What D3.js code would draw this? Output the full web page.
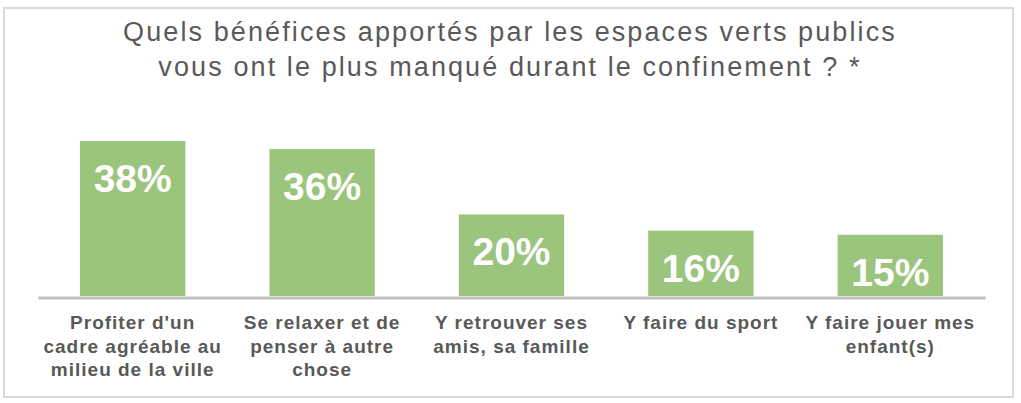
<!DOCTYPE html>
<html><head><meta charset="utf-8">
<script src="https://cdn.jsdelivr.net/npm/d3@7"></script>
<style>
html,body{margin:0;padding:0;background:#fff;}
svg{display:block;}
text{font-family:"Liberation Sans",Arial,sans-serif;}
</style></head>
<body>
<svg id="chart" width="1021" height="403"></svg>
<script>
const titleLines = ["Quels bénéfices apportés par les espaces verts publics", "vous ont le plus manqué durant le confinement ? *"];
const categories = ["Profiter d'un cadre agréable au milieu de la ville", "Se relaxer et de penser à autre chose", "Y retrouver ses amis, sa famille", "Y faire du sport", "Y faire jouer mes enfant(s)"];
const categoryLines = [
  ["Profiter d'un", "cadre agréable au", "milieu de la ville"],
  ["Se relaxer et de", "penser à autre", "chose"],
  ["Y retrouver ses", "amis, sa famille"],
  ["Y faire du sport"],
  ["Y faire jouer mes", "enfant(s)"]
];
const values = [38, 36, 20, 16, 15];

const svg = d3.select("#chart");
// frame
svg.append("rect").attr("x", 4).attr("y", 8).attr("width", 1009).attr("height", 389)
  .attr("fill", "#fff").attr("stroke", "#d9d9d9").attr("stroke-width", 2);

// title
const title = svg.append("text").attr("text-anchor", "middle").attr("fill", "#595959")
  .style("font-size", "27px").style("letter-spacing", "2.1px");
titleLines.forEach((l, i) => {
  title.append("tspan").attr("x", 510).attr("y", 41 + i * 35).text(l);
});

const x = d3.scaleBand().domain(categories).range([38, 985]).paddingInner(0.444).paddingOuter(0.222);
const y = d3.scaleLinear().domain([0, 100]).range([296, 296 - 408]);

// bars
svg.selectAll("rect.bar").data(values).enter().append("rect").attr("class", "bar")
  .attr("x", (d, i) => x(categories[i]))
  .attr("width", x.bandwidth())
  .attr("y", d => y(d))
  .attr("height", d => y(0) - y(d))
  .attr("fill", "#9bc47d");

// axis line
const axis = d3.axisBottom(x).tickSize(0).tickFormat("");
const ag = svg.append("g").attr("transform", "translate(0,297.5)").call(axis);
ag.select(".domain").attr("stroke", "#bfbfbf").attr("stroke-width", 3);

// value labels
svg.selectAll("text.val").data(values).enter().append("text").attr("class", "val")
  .attr("x", (d, i) => x(categories[i]) + x.bandwidth() / 2)
  .attr("y", d => y(d) + 51)
  .attr("text-anchor", "middle").attr("fill", "#fff")
  .style("font-size", "39px").style("font-weight", "bold")
  .text(d => d + "%");

// category labels
categories.forEach((c, i) => {
  const t = svg.append("text").attr("text-anchor", "middle").attr("fill", "#595959")
    .style("font-size", "19px").style("font-weight", "bold").style("letter-spacing", "1px");
  categoryLines[i].forEach((l, j) => {
    t.append("tspan").attr("x", x(c) + x.bandwidth() / 2).attr("y", 329 + j * 23.5).text(l);
  });
});
</script>
</body></html>
